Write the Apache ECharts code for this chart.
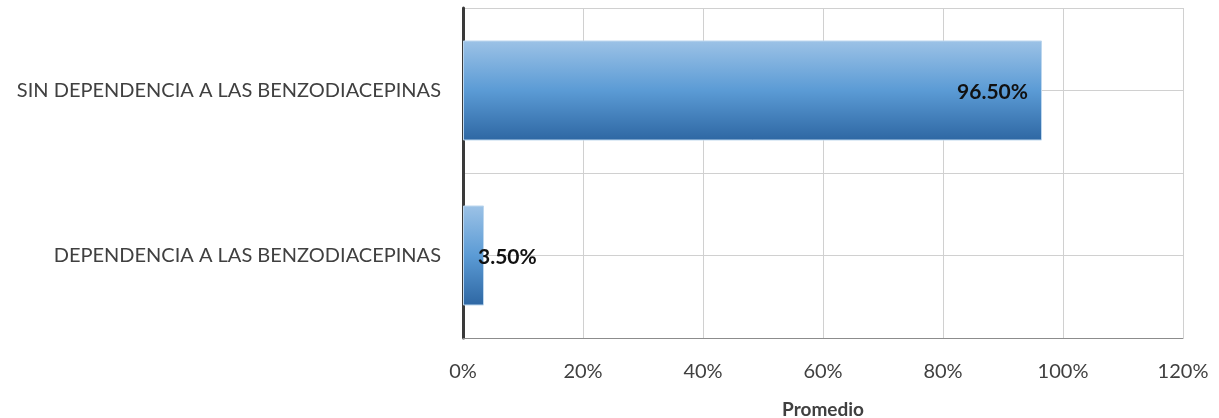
<!DOCTYPE html>
<html>
<head>
<meta charset="utf-8">
<script src="https://cdn.jsdelivr.net/npm/echarts@6/dist/echarts.min.js"></script>
<style>
  html, body { margin: 0; padding: 0; background: #fff; }
  #chart { width: 1219px; height: 418px; }
</style>
</head>
<body>
<div id="chart"></div>
<script>
// datos
var categorias = ['DEPENDENCIA A LAS BENZODIACEPINAS', 'SIN DEPENDENCIA A LAS BENZODIACEPINAS'];
var promedio = [3.5, 96.5];
var ticksX = [0, 20, 40, 60, 80, 100, 120];

var chart = echarts.init(document.getElementById('chart'));

var barColor = new echarts.graphic.LinearGradient(0, 0, 0, 1, [
  { offset: 0, color: '#9cc2e6' },
  { offset: 0.5, color: '#5b9bd5' },
  { offset: 1, color: '#2e67a3' }
]);

chart.setOption({
  animation: false,
  textStyle: { fontFamily: 'Lato' },
  grid: { left: 463, right: 36, top: 8, bottom: 80, outerBoundsMode: 'none' },
  xAxis: {
    type: 'value',
    min: ticksX[0],
    max: ticksX[ticksX.length - 1],
    interval: 20,
    name: 'Promedio',
    nameLocation: 'middle',
    nameGap: 62,
    nameTextStyle: { fontWeight: 'bold', fontSize: 19, color: '#404040' },
    axisLine: { show: true, lineStyle: { color: '#8c8c8c', width: 1 } },
    axisTick: { show: false },
    axisLabel: { formatter: '{value}%', fontSize: 20, color: '#404040', margin: 24 },
    splitLine: { lineStyle: { color: '#d0d0d0', width: 1 } }
  },
  yAxis: [
    {
      type: 'category',
      data: categorias,
      axisLine: { lineStyle: { color: '#3a3a3a', width: 3 } },
      axisTick: { show: false },
      axisLabel: { fontSize: 20, color: '#404040', margin: 22 },
      splitLine: { show: false }
    },
    {
      type: 'value',
      min: 0, max: 4, interval: 1,
      position: 'right',
      axisLine: { show: false },
      axisTick: { show: false },
      axisLabel: { show: false },
      splitLine: { show: true, lineStyle: { color: '#d0d0d0', width: 1 } }
    }
  ],
  series: [
    {
      type: 'bar',
      yAxisIndex: 0,
      barWidth: 100,
      itemStyle: { color: barColor, borderColor: '#bdd7ee', borderWidth: 1 },
      label: {
        show: true,
        position: 'insideRight',
        distance: 14,
        fontSize: 21,
        fontWeight: 'bold',
        color: '#111',
        formatter: function (p) { return p.value.toFixed(2) + '%'; }
      },
      data: [
        { value: promedio[0], label: { position: 'insideLeft', offset: [1, 2] } },
        { value: promedio[1], label: { offset: [0, 2] } }
      ],
      z: 3
    }
  ]
});
</script>
</body>
</html>
